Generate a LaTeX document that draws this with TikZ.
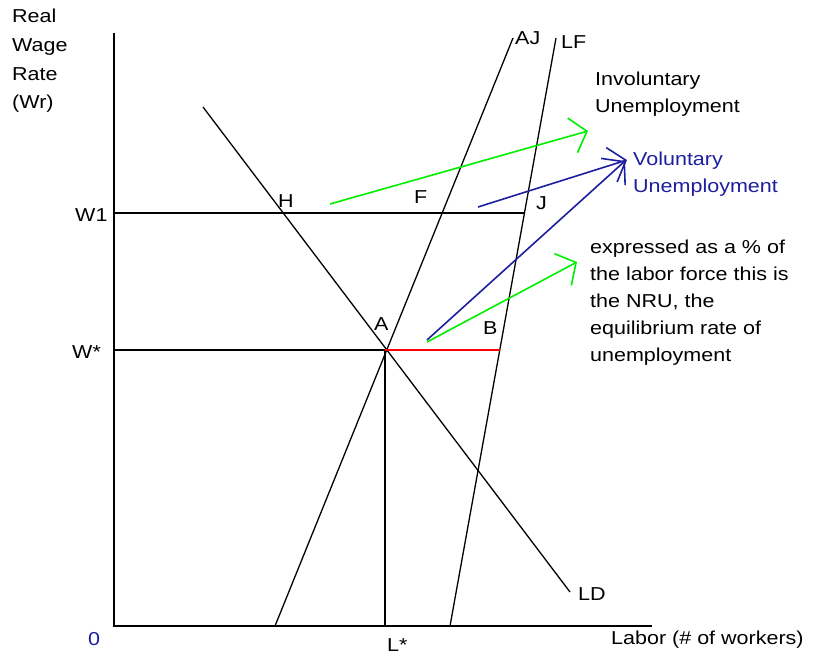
\documentclass[tikz,border=0pt]{standalone}
\usepackage{fontspec}
\setmainfont{Liberation Sans}[FakeStretch=1.15]
\usetikzlibrary{arrows.meta}
\definecolor{pgreen}{RGB}{0,240,0}
\definecolor{pblue}{RGB}{30,30,160}
\definecolor{pred}{RGB}{255,0,0}
\tikzset{
  x=1pt,y=-1pt,
  lbl/.style={font=\fontsize{18.7}{27}\selectfont, inner sep=0pt, anchor=base west},
  curve/.style={black, line width=1.3pt},
  axis/.style={black, line width=1.8pt},
  gl/.style={black, line width=1.5pt},
  arr/.style={line width=1.6pt, -{Straight Barb[length=15pt,width=36pt,line width=1.6pt]}},
}
\begin{document}
\begin{tikzpicture}
\useasboundingbox[fill=white] (0,0) rectangle (818,655);
% axes
\coordinate (ytop) at (114,33);
\coordinate (O) at (114,626);
\coordinate (xend) at (652,626);
\draw[axis] (ytop) -- (O) -- (xend);
% key points
\coordinate (A) at (385,350);
\coordinate (J) at (524,213);
\coordinate (B) at (500,350);
\coordinate (W1) at (114,213);
\coordinate (Ws) at (114,350);
\coordinate (Lb) at (385,626);
\coordinate (LDa) at (203,107);
\coordinate (LDb) at (570,592);
\coordinate (AJa) at (275,626);
\coordinate (AJb) at (513,38);
\coordinate (LFa) at (450,626);
\coordinate (LFb) at (556,38);
% curves
\draw[curve] (LDa) -- (LDb);
\draw[curve] (AJa) -- (AJb);
\draw[curve] (LFa) -- (LFb);
\draw[gl] (W1) -- (J);
\draw[gl] (Ws) -- (A);
\draw[gl] (A) -- (Lb);
\draw[pred, line width=1.6pt] (A) -- (B);
% arrows
\coordinate (g1s) at (330,204);
\coordinate (g1e) at (588,131);
\coordinate (b1s) at (478,207);
\coordinate (b1e) at (627,160);
\coordinate (b2s) at (427,340);
\coordinate (b2e) at (625,161);
\coordinate (g2s) at (427,342);
\coordinate (g2e) at (577,262);
\draw[arr, pgreen] (g1s) -- (g1e);
\draw[arr, pblue] (b1s) -- (b1e);
\draw[arr, pblue] (b2s) -- (b2e);
\draw[arr, pgreen] (g2s) -- (g2e);
% labels
\node[lbl] (tReal) at (12,23) {Real};
\node[lbl] (tWage) at (12,52) {Wage};
\node[lbl] (tRate) at (12,81) {Rate};
\node[lbl] (tWr) at (12,109) {(Wr)};
\node[lbl] (tW1) at (75,221) {W1};
\node[lbl] (tWs) at (72,358) {W*};
\node[lbl, text=pblue] (t0) at (88,645) {0};
\node[lbl] (tLs) at (387,651) {L*};
\node[lbl] (tLab) at (611,644) {Labor (\# of workers)};
\node[lbl] (tAJ) at (515,45) {AJ};
\node[lbl] (tLF) at (561,49) {LF};
\node[lbl] (tH) at (278,207) {H};
\node[lbl] (tF) at (414,203) {F};
\node[lbl] (tJ) at (536,209) {J};
\node[lbl] (tA) at (374,330) {A};
\node[lbl] (tB) at (483,334) {B};
\node[lbl] (tLD) at (578,600) {LD};
\node[lbl] (tInv1) at (595,86) {Involuntary};
\node[lbl] (tInv2) at (595,113) {Unemployment};
\node[lbl, text=pblue] (tVol1) at (633,165) {Voluntary};
\node[lbl, text=pblue] (tVol2) at (633,192) {Unemployment};
\node[lbl] (te1) at (590,253) {expressed as a \% of};
\node[lbl] (te2) at (590,280) {the labor force this is};
\node[lbl] (te3) at (590,307) {the NRU, the};
\node[lbl] (te4) at (590,334) {equilibrium rate of};
\node[lbl] (te5) at (590,361) {unemployment};
\end{tikzpicture}
\end{document}
